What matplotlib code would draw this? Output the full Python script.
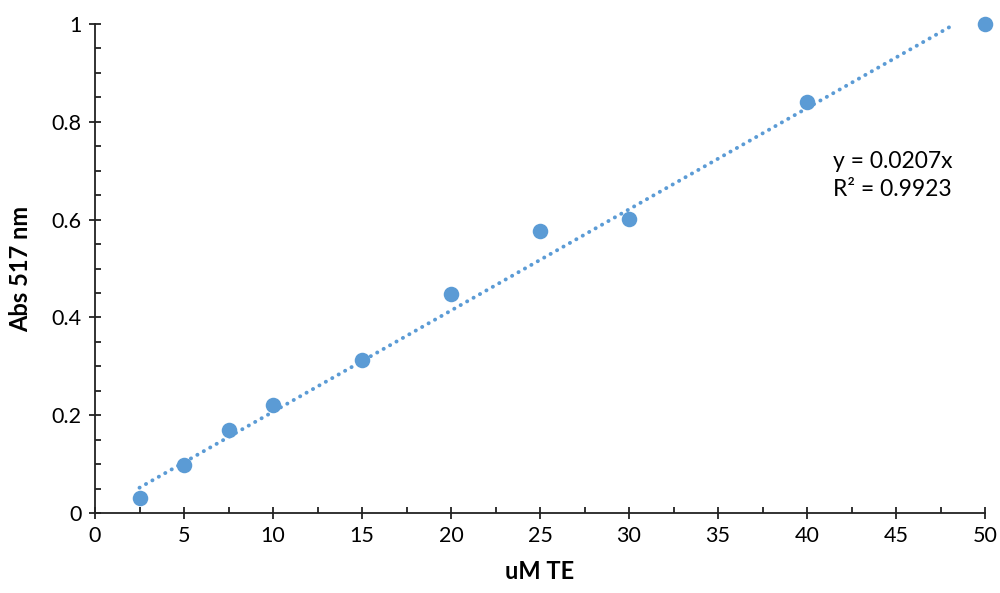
import matplotlib
matplotlib.use("Agg")
import matplotlib.pyplot as plt
from matplotlib.ticker import MultipleLocator, FuncFormatter

# standard curve: Trolox equivalents vs absorbance at 517 nm
conc_um = [2.5, 5, 7.5, 10, 15, 20, 25, 30, 40, 50]
abs_517 = [0.031, 0.098, 0.170, 0.221, 0.313, 0.448, 0.577, 0.601, 0.840, 1.000]
slope = 0.0207
r_squared = 0.9923

blue = "#5B9BD5"
plt.rcParams["font.family"] = ["Lato", "DejaVu Sans"]

fig = plt.figure(figsize=(10, 5.93), dpi=100)
ax = fig.add_axes([0.095, 0.1349, 0.89, 0.8246])

# linear trendline through origin, clipped at the top of the y range
x_end = 1.0 / slope
ax.plot([conc_um[0], x_end], [slope * conc_um[0], slope * x_end],
        color=blue, lw=2.8, linestyle=(0, (0.05, 1.85)), dash_capstyle="round",
        zorder=2, clip_on=False)
ax.scatter(conc_um, abs_517, s=125, color=blue, zorder=3, linewidths=0, clip_on=False)

ax.set_xlim(0, 50)
ax.set_ylim(0, 1)
ax.xaxis.set_major_locator(MultipleLocator(5))
ax.xaxis.set_minor_locator(MultipleLocator(2.5))
ax.yaxis.set_major_locator(MultipleLocator(0.2))
ax.yaxis.set_minor_locator(MultipleLocator(0.05))
ax.yaxis.set_major_formatter(FuncFormatter(lambda v, p: f"{v:g}"))

for side in ("top", "right"):
    ax.spines[side].set_visible(False)
for side in ("left", "bottom"):
    ax.spines[side].set_linewidth(1.3)
    ax.spines[side].set_color("#222222")

ax.tick_params(which="major", direction="inout", length=9, width=1.3,
               labelsize=15.5, color="#222222", pad=5)
ax.tick_params(which="minor", direction="in", length=4.5, width=1.3, color="#222222")

ax.set_xlabel("uM TE", fontsize=17, fontweight="bold", labelpad=10)
ax.set_ylabel("Abs 517 nm", fontsize=17, fontweight="bold", labelpad=14)

ax.text(41.45, 0.69, f"y = {slope}x\nR² = {r_squared}", fontsize=16.5,
        ha="left", va="center", linespacing=1.45)

fig.savefig("out.png", dpi=100)
